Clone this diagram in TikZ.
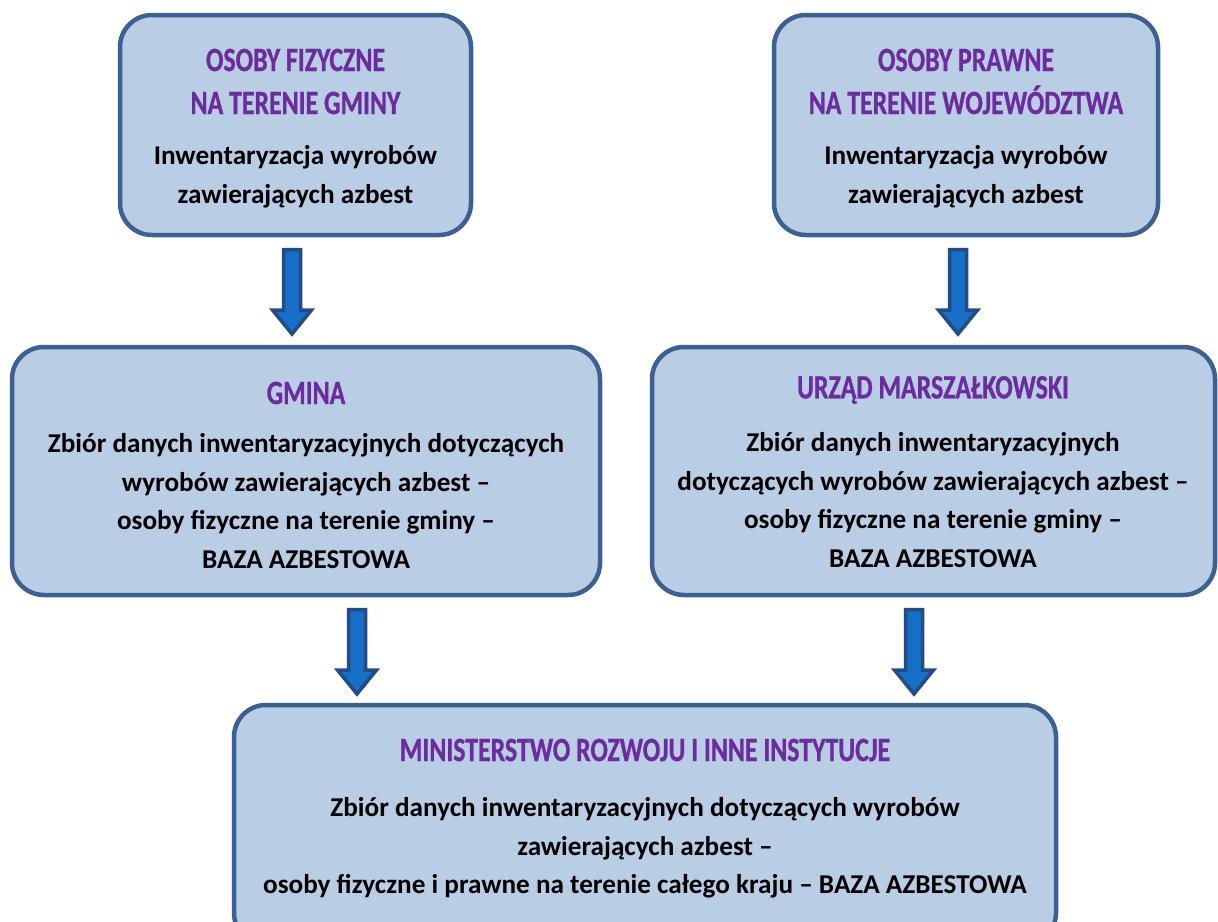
\documentclass[tikz,border=0pt]{standalone}
\usepackage{fontspec}
\setmainfont{Carlito}
\newfontfamily\headfont[FakeStretch=0.76,FakeBold=0.8]{Carlito}
\definecolor{boxfill}{RGB}{185,205,229}
\definecolor{boxline}{RGB}{60,96,145}
\definecolor{headpurple}{RGB}{108,44,158}
\definecolor{arrline}{RGB}{35,75,135}
\definecolor{arrfill}{RGB}{22,112,200}
\tikzset{
  x=1pt,y=-1pt,
  panel/.style={draw=boxline, fill=boxfill, line width=4.5pt, rounded corners=32pt, inner sep=0pt},
  headtxt/.style={font=\headfont\bfseries\fontsize{34}{43}\selectfont, text=headpurple, align=center, inner sep=0pt},
  bodytxt/.style={font=\bfseries\fontsize{27.2}{38.5}\selectfont, text=black, align=center, inner sep=0pt},
  barrow/.style={draw=arrline, fill=arrfill, line width=3.5pt, line join=miter}
}
\newcommand{\blockarrowat}[4]{%
  \draw[barrow] ({#1-8.5},{#2+1.5}) -- ({#1+8.5},{#2+1.5}) -- ({#1+8.5},#3) -- ({#1+19.5},#3)
    -- (#1,{#4-3}) -- ({#1-19.5},#3) -- ({#1-8.5},#3) -- cycle;}
\begin{document}
\begin{tikzpicture}
\useasboundingbox (0,0) rectangle (1218,921);
% boxes
\node[panel, minimum width=351pt, minimum height=220pt] (b1) at (295.5,125) {};
\node[panel, minimum width=384pt, minimum height=220pt] (b2) at (966,125) {};
\node[panel, minimum width=588pt, minimum height=248pt] (b3) at (306,471) {};
\node[panel, minimum width=563pt, minimum height=248pt] (b4) at (933.5,471) {};
\node[panel, minimum width=822pt, minimum height=240pt] (b5) at (645,825) {};
% texts
\node[headtxt] (h1) at (295.5,81.5) {OSOBY FIZYCZNE\\NA TERENIE GMINY};
\node[bodytxt] (t1) at (295.5,177) {Inwentaryzacja wyrobów\\zawierających azbest};
\node[headtxt] (h2) at (966,81.5) {OSOBY PRAWNE\\NA TERENIE WOJEWÓDZTWA};
\node[bodytxt] (t2) at (966,177) {Inwentaryzacja wyrobów\\zawierających azbest};
\node[headtxt] (h3) at (306,393) {GMINA};
\node[bodytxt] (t3) at (306,501) {Zbiór danych inwentaryzacyjnych dotyczących\\wyrobów zawierających azbest –\\osoby fizyczne na terenie gminy –\\BAZA AZBESTOWA};
\node[headtxt] (h4) at (933,390) {URZĄD MARSZAŁKOWSKI};
\node[bodytxt] (t4) at (933,500) {Zbiór danych inwentaryzacyjnych\\dotyczących wyrobów zawierających azbest –\\osoby fizyczne na terenie gminy –\\BAZA AZBESTOWA};
\node[headtxt] (h5) at (645,750) {MINISTERSTWO ROZWOJU I INNE INSTYTUCJE};
\node[bodytxt] (t5) at (645,848) {Zbiór danych inwentaryzacyjnych dotyczących wyrobów\\zawierających azbest –\\osoby fizyczne i prawne na terenie całego kraju – BAZA AZBESTOWA};
% block arrows
\blockarrowat{292}{248}{310}{337}
\blockarrowat{958}{248}{310}{337}
\blockarrowat{357}{608}{670}{697}
\blockarrowat{914}{608}{670}{697}
\end{tikzpicture}
\end{document}
